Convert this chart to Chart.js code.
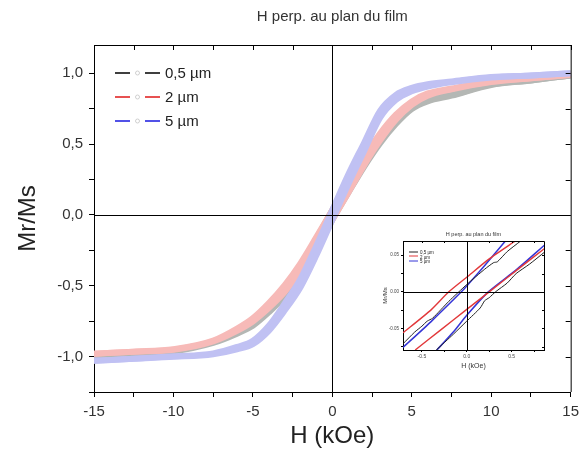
<!DOCTYPE html>
<html>
<head>
<meta charset="utf-8">
<script src="https://cdn.jsdelivr.net/npm/chart.js@4.4.1/dist/chart.umd.min.js"></script>
<style>
html, body { margin: 0; padding: 0; background: #fff; }
#wrap { position: relative; width: 585px; height: 457px; }
#main { position: absolute; left: 0; top: 0; }
#inset { position: absolute; left: 378px; top: 226px; }
</style>
</head>
<body>
<div id="wrap">
  <canvas id="main" width="585" height="457"></canvas>
  <canvas id="inset" width="172" height="148"></canvas>
</div>
<script>
// main plot: field grid (kOe) and Mr/Ms for both branches of each loop
const H_GRID = [-15, -12.5, -10, -7.5, -6, -5, -4, -3, -2, -1, 0, 1, 2, 3, 4, 5, 6, 7.5, 10, 12.5, 15]

const gray_up   = [-0.99, -0.975, -0.962, -0.903, -0.838, -0.782, -0.688, -0.575, -0.42, -0.235, -0.035, 0.155, 0.34, 0.505, 0.642, 0.748, 0.802, 0.842, 0.918, 0.95, 0.985]
const gray_down = [-0.99, -0.975, -0.958, -0.897, -0.822, -0.758, -0.652, -0.525, -0.36, -0.165, 0.035, 0.225, 0.40, 0.555, 0.678, 0.772, 0.818, 0.848, 0.922, 0.95, 0.985]
const red_up    = [-0.98, -0.965, -0.952, -0.893, -0.818, -0.752, -0.658, -0.545, -0.40, -0.225, -0.035, 0.155, 0.35, 0.525, 0.672, 0.778, 0.842, 0.887, 0.938, 0.965, 0.99]
const red_down  = [-0.98, -0.965, -0.948, -0.887, -0.802, -0.728, -0.622, -0.495, -0.34, -0.155, 0.035, 0.225, 0.41, 0.575, 0.708, 0.802, 0.858, 0.893, 0.942, 0.965, 0.99]
const blue_up   = [-1.03, -1.015, -1.002, -0.983, -0.948, -0.912, -0.818, -0.675, -0.51, -0.285, -0.035, 0.215, 0.45, 0.685, 0.812, 0.873, 0.907, 0.937, 0.97, 0.985, 1.0]
const blue_down = [-1.03, -1.015, -0.998, -0.977, -0.932, -0.888, -0.782, -0.625, -0.45, -0.215, 0.035, 0.285, 0.51, 0.735, 0.848, 0.897, 0.923, 0.943, 0.974, 0.985, 1.0]

const X_TICKS = [-15, -12.5, -10, -7.5, -5, -2.5, 0, 2.5, 5, 7.5, 10, 12.5, 15]
const Y_TICKS = [-1.25, -1, -0.75, -0.5, -0.25, 0, 0.25, 0.5, 0.75, 1]
const LEGEND = ['0,5 µm', '2 µm', '5 µm']

// inset: [H (kOe), Mr/Ms] points of each branch
const in_black_a = [[-0.71, -0.071], [-0.58, -0.055], [-0.5, -0.047], [-0.44, -0.040], [-0.38, -0.036], [-0.2, -0.013], [0, 0.010], [0.2, 0.031], [0.3, 0.040], [0.34, 0.041], [0.45, 0.055], [0.6, 0.0695]]
const in_black_b = [[-0.34, -0.0795], [-0.15, -0.058], [0, -0.040], [0.15, -0.022], [0.2, -0.012], [0.25, -0.008], [0.32, 0], [0.45, 0.012], [0.55, 0.025], [0.7, 0.038], [0.863, 0.054]]
const in_red_a   = [[-0.71, -0.056], [-0.4, -0.025], [-0.2, 0], [0, 0.020], [0.25, 0.045], [0.54, 0.0695]]
const in_red_b   = [[-0.574, -0.0795], [-0.3, -0.053], [0, -0.024], [0.25, 0], [0.55, 0.029], [0.863, 0.059]]
const in_blue_a  = [[-0.71, -0.076], [-0.4, -0.041], [-0.06, 0], [0, 0.008], [0.2, 0.036], [0.43, 0.0695]]
const in_blue_b  = [[-0.333, -0.0795], [-0.15, -0.055], [0, -0.032], [0.24, 0], [0.55, 0.030], [0.863, 0.0636]]

const IN_X_TICKS = [-0.5, -0.25, 0, 0.25, 0.5, 0.75]
const IN_Y_TICKS = [-0.075, -0.05, -0.025, 0, 0.025, 0.05]

const FONT = 'Liberation Sans, Arial, sans-serif'

function branch(ys) {
    return H_GRID.map((h, i) => ({x: h, y: ys[i]}))
}

function pts(arr) {
    return arr.map(p => ({x: p[0], y: p[1]}))
}

function bandSet(ys, color, order) {
    return {data: branch(ys), borderColor: color, borderWidth: 6, showLine: true,
            pointRadius: 0, cubicInterpolationMode: 'monotone', order: order}
}

function lineSet(arr, color, w) {
    return {data: pts(arr), borderColor: color, borderWidth: w, showLine: true,
            pointRadius: 0, tension: 0.2}
}

// frame, zero lines, inward ticks, title, legend
function decorations(opts) {
    return {
        id: 'deco_' + opts.name,
        afterDatasetsDraw(chart) {
            const ctx = chart.ctx
            const a = chart.chartArea
            const x0 = chart.scales.x.getPixelForValue(0)
            const y0 = chart.scales.y.getPixelForValue(0)
            ctx.save()
            ctx.strokeStyle = '#000'
            ctx.lineWidth = 1
            ctx.beginPath()
            ctx.moveTo(a.left, Math.round(y0) + 0.5)
            ctx.lineTo(a.right, Math.round(y0) + 0.5)
            ctx.moveTo(Math.round(x0) + 0.5, a.top)
            ctx.lineTo(Math.round(x0) + 0.5, a.bottom)
            ctx.stroke()
            ctx.restore()
        },
        afterDraw(chart) {
            const ctx = chart.ctx
            const a = chart.chartArea
            const sx = chart.scales.x
            const sy = chart.scales.y
            ctx.save()
            ctx.strokeStyle = '#000'
            ctx.lineWidth = 1
            ctx.beginPath()
            ctx.moveTo(a.left, a.top + 0.5)
            ctx.lineTo(a.right + 0.5, a.top + 0.5)
            ctx.lineTo(a.right + 0.5, a.bottom)
            for (let v of opts.xTicks) {
                const px = Math.round(sx.getPixelForValue(v)) + 0.5
                ctx.moveTo(px, a.top)
                ctx.lineTo(px, a.top + opts.tick)
            }
            for (let v of opts.yTicks) {
                const py = Math.round(sy.getPixelForValue(v)) + 0.5
                ctx.moveTo(a.right, py)
                ctx.lineTo(a.right - opts.tick, py)
            }
            ctx.stroke()

            ctx.fillStyle = '#333'
            ctx.font = opts.titleSize + 'px ' + FONT
            ctx.textAlign = 'center'
            ctx.textBaseline = 'middle'
            ctx.fillText('H perp. au plan du film', (a.left + a.right) / 2, opts.titleY)

            const lg = opts.legend
            ctx.textAlign = 'left'
            ctx.font = lg.size + 'px ' + FONT
            for (let i = 0; i < LEGEND.length; i++) {
                const y = lg.y[i]
                const ly = Math.round(y)
                ctx.strokeStyle = lg.colors[i]
                ctx.lineWidth = lg.lw
                ctx.beginPath()
                if (lg.gap) {
                    ctx.moveTo(lg.x0, ly); ctx.lineTo(lg.x0 + lg.seg, ly)
                    ctx.moveTo(lg.x1 - lg.seg, ly); ctx.lineTo(lg.x1, ly)
                } else {
                    ctx.moveTo(lg.x0, ly); ctx.lineTo(lg.x1, ly)
                }
                ctx.stroke()
                if (lg.gap) {
                    ctx.strokeStyle = '#cfcfcf'
                    ctx.lineWidth = 1
                    ctx.beginPath()
                    ctx.arc((lg.x0 + lg.x1) / 2, ly, 2, 0, Math.PI * 2)
                    ctx.stroke()
                }
                ctx.fillStyle = '#222'
                ctx.fillText(LEGEND[i], lg.tx, y + 1)
            }
            ctx.restore()
        }
    }
}

const mainChart = new Chart(document.getElementById('main'), {
    type: 'scatter',
    data: {
        datasets: [
            bandSet(gray_up, '#b4b7b4', 3), bandSet(gray_down, '#b4b7b4', 3),
            bandSet(red_up, '#f7bab8', 2), bandSet(red_down, '#f7bab8', 2),
            bandSet(blue_up, '#c0c1f3', 1), bandSet(blue_down, '#c0c1f3', 1)
        ]
    },
    options: {
        responsive: false,
        animation: false,
        devicePixelRatio: 1,
        layout: {padding: {top: 45, right: 14, left: 0, bottom: 0}},
        plugins: {legend: {display: false}, tooltip: {enabled: false}},
        scales: {
            x: {
                type: 'linear', min: -15, max: 15,
                afterBuildTicks: s => { s.ticks = X_TICKS.map(v => ({value: v})) },
                afterFit: s => { s.height = 65 },
                ticks: {
                    callback: v => (v % 5 === 0 ? String(v) : ''),
                    font: {family: FONT, size: 15}, color: '#333', padding: 6,
                    maxRotation: 0, autoSkip: false
                },
                grid: {drawOnChartArea: false, tickLength: 5, color: '#000'},
                border: {color: '#000', width: 1},
                title: {display: true, text: 'H (kOe)', font: {family: FONT, size: 24},
                        color: '#222', padding: {top: 0, bottom: 6}}
            },
            y: {
                type: 'linear', min: -1.25, max: 1.2,
                afterBuildTicks: s => { s.ticks = Y_TICKS.map(v => ({value: v})) },
                afterFit: s => { s.width = 94 },
                ticks: {
                    callback: v => (Math.abs(v * 2 - Math.round(v * 2)) < 1e-6 ? v.toFixed(1).replace('.', ',') : ''),
                    font: {family: FONT, size: 15}, color: '#333', padding: 6, autoSkip: false
                },
                grid: {drawOnChartArea: false, tickLength: 5, color: '#000'},
                border: {color: '#000', width: 1},
                title: {display: true, text: 'Mr/Ms', font: {family: FONT, size: 24},
                        color: '#222', padding: {top: 14, bottom: 0}}
            }
        }
    },
    plugins: [decorations({
        name: 'main', xTicks: X_TICKS, yTicks: Y_TICKS, tick: 5, titleSize: 15, titleY: 17,
        legend: {x0: 115, x1: 160, seg: 15, gap: true, lw: 1.5, tx: 165, size: 15,
                 y: [73, 97, 121], colors: ['#000000', '#e01818', '#1818e0']}
    })]
})

const insetChart = new Chart(document.getElementById('inset'), {
    type: 'scatter',
    data: {
        datasets: [
            lineSet(in_black_a, '#222', 1), lineSet(in_black_b, '#222', 1),
            lineSet(in_red_a, '#e2383a', 1.4), lineSet(in_red_b, '#e2383a', 1.4),
            lineSet(in_blue_a, '#3434d6', 1.5), lineSet(in_blue_b, '#3434d6', 1.5)
        ]
    },
    options: {
        responsive: false,
        animation: false,
        devicePixelRatio: 1,
        layout: {padding: {top: 15, right: 6, left: 0, bottom: 0}},
        plugins: {legend: {display: false}, tooltip: {enabled: false}},
        scales: {
            x: {
                type: 'linear', min: -0.71, max: 0.86,
                afterBuildTicks: s => { s.ticks = IN_X_TICKS.map(v => ({value: v})) },
                afterFit: s => { s.height = 24 },
                ticks: {
                    callback: v => (Math.abs(v * 2 - Math.round(v * 2)) < 1e-6 ? v.toFixed(1) : ''),
                    font: {family: FONT, size: 5}, color: '#444', padding: 2, maxRotation: 0, autoSkip: false
                },
                grid: {drawOnChartArea: false, tickLength: 2, color: '#000'},
                border: {color: '#000', width: 1},
                title: {display: true, text: 'H (kOe)', font: {family: FONT, size: 7},
                        color: '#333', padding: {top: 0, bottom: 4}}
            },
            y: {
                type: 'linear', min: -0.0795, max: 0.0695,
                afterBuildTicks: s => { s.ticks = IN_Y_TICKS.map(v => ({value: v})) },
                afterFit: s => { s.width = 25 },
                ticks: {
                    callback: v => (Math.abs(v * 20 - Math.round(v * 20)) < 1e-6 ? v.toFixed(2) : ''),
                    font: {family: FONT, size: 4.5}, color: '#444', padding: 2, autoSkip: false
                },
                grid: {drawOnChartArea: false, tickLength: 2, color: '#000'},
                border: {color: '#000', width: 1},
                title: {display: true, text: 'Mr/Ms', font: {family: FONT, size: 6},
                        color: '#333', padding: {top: 3.5, bottom: 0}}
            }
        }
    },
    plugins: [decorations({
        name: 'inset', xTicks: IN_X_TICKS, yTicks: IN_Y_TICKS, tick: 2, titleSize: 5.5, titleY: 8,
        legend: {x0: 31, x1: 40, seg: 0, gap: false, lw: 1, tx: 42, size: 4.5,
                 y: [26, 30.3, 34.7], colors: ['#222', '#e2383a', '#3434d6']}
    })]
})
</script>
</body>
</html>
